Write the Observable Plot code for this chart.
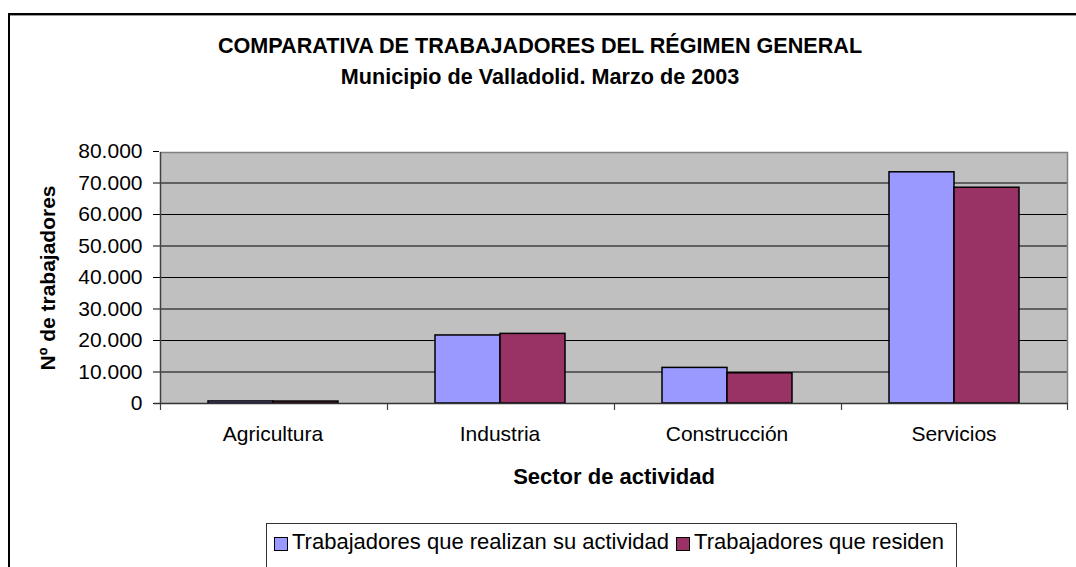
<!DOCTYPE html>
<html>
<head>
<meta charset="utf-8">
<script src="https://cdn.jsdelivr.net/npm/d3@7"></script>
<script src="https://cdn.jsdelivr.net/npm/@observablehq/plot@0.6"></script>
<style>
  html, body { margin: 0; padding: 0; background: #fff; }
  #page { position: relative; width: 1076px; height: 567px; overflow: hidden;
          font-family: "Liberation Sans", Arial, sans-serif; color: #000; background: #fff; }
  #outer { position: absolute; left: 8px; top: 13px; width: 1300px; height: 800px;
           border-left: 2px solid #000; border-top: 2px solid #000; box-sizing: border-box; }
  #outer::after { content: ""; position: absolute; left: 0; top: 0; right: 0; height: 1px; background: #999; }
  .title { position: absolute; left: 0; width: 1080px; text-align: center; font-weight: bold;
           font-size: 21.6px; line-height: 31px; white-space: nowrap; }
  #chart { position: absolute; left: 0; top: 130px; }
  #legend { position: absolute; left: 266px; top: 523px; width: 691px; height: 80px;
            border: 1px solid #333; box-sizing: border-box; background: #fff; }
  #legend .row { position: absolute; left: 7px; top: 5px; white-space: nowrap; font-size: 22px; line-height: 26px; }
  #legend .sw { display: inline-block; width: 12px; height: 12px; border: 1.5px solid #000; vertical-align: -2px; margin-right: 4px; }
  #legend .lab { margin-right: 7px; }
</style>
</head>
<body>
<div id="page">
  <div id="outer"></div>
  <div class="title" style="top:30px">COMPARATIVA DE TRABAJADORES DEL RÉGIMEN GENERAL</div>
  <div class="title" style="top:61px">Municipio de Valladolid. Marzo de 2003</div>
  <div id="chart"></div>
  <div id="legend"><div class="row" id="legendRow"></div></div>
</div>
<script>
// ---- data ----
const sectores = ["Agricultura", "Industria", "Construcción", "Servicios"];
const series = ["Trabajadores que realizan su actividad", "Trabajadores que residen"];
const realizan = [650, 21600, 11300, 73400];
const residen = [620, 22100, 9600, 68500];
const yTicks = [0, 10000, 20000, 30000, 40000, 50000, 60000, 70000, 80000];
const gridTicks = [10000, 20000, 30000, 40000, 50000, 60000, 70000];
const colores = ["#9999FF", "#993366"];
const plotBg = "#c0c0c0";
const yTitle = "Nº de trabajadores";
const xTitle = "Sector de actividad";

const data = sectores.flatMap((s, i) => [
  {sector: s, serie: series[0], value: realizan[i]},
  {sector: s, serie: series[1], value: residen[i]}
]);

const fmt = d3.formatLocale({decimal: ",", thousands: ".", grouping: [3], currency: ["", "€"]}).format(",.0f");

const plot = Plot.plot({
  width: 1076,
  height: 370,
  marginTop: 21,
  marginBottom: 97,
  marginLeft: 159,
  marginRight: 9,
  style: {fontFamily: '"Liberation Sans", Arial, sans-serif', fontSize: "21px", color: "#000", background: "transparent", overflow: "visible"},
  fx: {domain: sectores, padding: 0, label: null, tickSize: 0, tickPadding: 23},
  x: {domain: series, paddingInner: 0, paddingOuter: 0.72, axis: null},
  y: {domain: [0, 80000], ticks: yTicks, tickFormat: fmt, tickSize: 6, tickPadding: 11, label: null},
  color: {domain: series, range: colores},
  marks: [
    Plot.frame({fill: "none", stroke: "none"}),
    Plot.ruleY(gridTicks, {stroke: "#000", strokeWidth: 1}),
    Plot.barY(data, {fx: "sector", x: "serie", y: "value", fill: "serie", stroke: "#000", strokeWidth: 1.5})
  ]
});
document.getElementById("chart").appendChild(plot);

// ---- decorations derived from the rendered (per-facet) plot frames ----
const svg = d3.select(plot);
const sb = plot.getBoundingClientRect();
const frames = Array.from(plot.querySelectorAll('g[aria-label="frame"] rect')).map(r => {
  const b = r.getBoundingClientRect();
  return {x0: b.left - sb.left, x1: b.right - sb.left, y0: b.top - sb.top, y1: b.bottom - sb.top};
}).sort((a, b) => a.x0 - b.x0);
const X0 = Math.round(d3.min(frames, d => d.x0)), X1 = Math.round(d3.max(frames, d => d.x1));
const Y0 = Math.round(d3.min(frames, d => d.y0)), Y1 = Math.round(d3.max(frames, d => d.y1));
// single background behind everything
svg.insert("rect", ":first-child").attr("x", X0).attr("y", Y0).attr("width", X1 - X0).attr("height", Y1 - Y0)
  .attr("fill", plotBg).attr("shape-rendering", "crispEdges");
const deco = svg.append("g");
// top and right border of plot area (gray)
deco.append("path").attr("d", `M${X0},${Y0 + 0.5}H${X1 - 0.5}V${Y1}`).attr("fill", "none").attr("stroke", "#808080").attr("stroke-width", 1.5);
// left axis line and bottom axis line
deco.append("line").attr("x1", X0 + 0.5).attr("x2", X0 + 0.5).attr("y1", Y0).attr("y2", Y1).attr("stroke", "#404040").attr("stroke-width", 1.5);
deco.append("line").attr("x1", X0 - 6).attr("x2", X1).attr("y1", Y1 - 0.5).attr("y2", Y1 - 0.5).attr("stroke", "#333").attr("stroke-width", 1.5);
// category boundary ticks
const bounds = frames.map(d => Math.round(d.x0)).concat([X1 - 1]);
deco.selectAll("line.bt").data(bounds).join("line").attr("class", "bt")
  .attr("x1", d => d + 0.5).attr("x2", d => d + 0.5).attr("y1", Y1).attr("y2", Y1 + 6)
  .attr("stroke", "#404040").attr("stroke-width", 1.2);
// axis titles
deco.append("text").attr("transform", `translate(${48},${(Y0 + Y1) / 2}) rotate(-90)`)
  .attr("text-anchor", "middle").attr("dy", "0.35em").attr("font-weight", "bold").attr("font-size", "21px").text(yTitle);
deco.append("text").attr("x", (X0 + X1) / 2).attr("y", Y1 + 80)
  .attr("text-anchor", "middle").attr("font-weight", "bold").attr("font-size", "22px").text(xTitle);

// ---- legend ----
const row = document.getElementById("legendRow");
series.forEach((s, i) => {
  const sw = document.createElement("span");
  sw.className = "sw"; sw.style.background = colores[i];
  const lab = document.createElement("span");
  lab.className = "lab"; lab.textContent = s;
  row.appendChild(sw); row.appendChild(lab);
});
</script>
</body>
</html>
